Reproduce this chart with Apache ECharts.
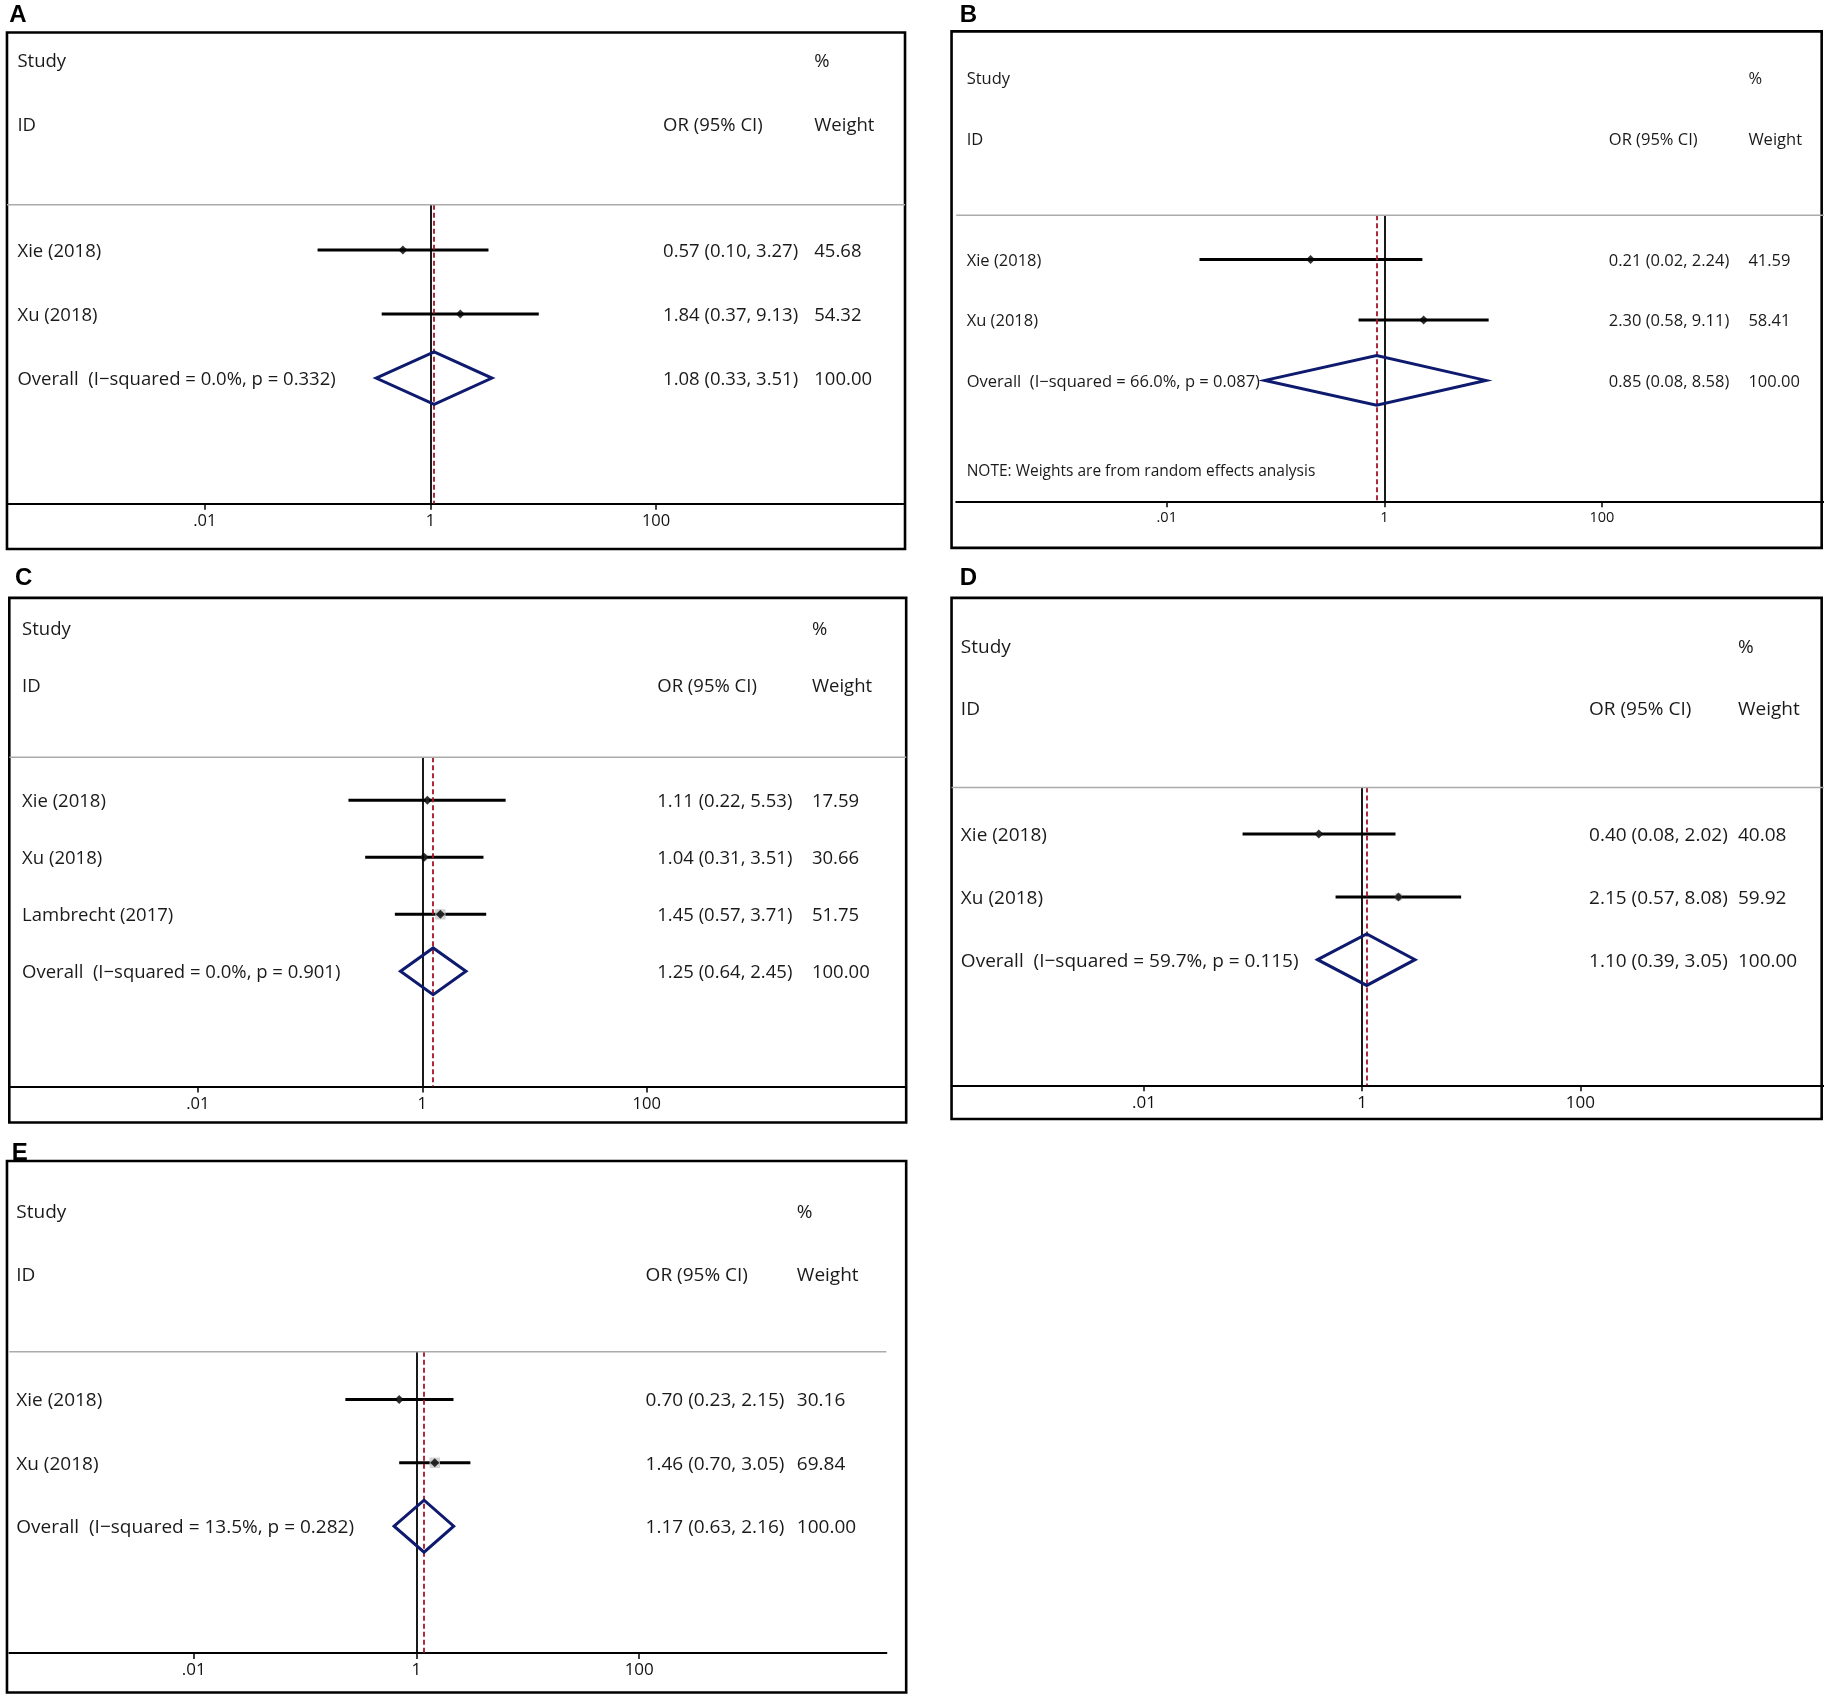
<!DOCTYPE html>
<html>
<head>
<meta charset="utf-8">
<script src="https://cdn.jsdelivr.net/npm/echarts@6/dist/echarts.min.js"></script>
<style>
html, body { margin: 0; padding: 0; background: #fff; }
#chart { width: 1824px; height: 1694px; }
</style>
</head>
<body>
<div id="chart"></div>
<script>
// A
const studyA = ['Xie (2018)', 'Xu (2018)'];
const orA = [0.57, 1.84];
const lowA = [0.10, 0.37];
const highA = [3.27, 9.13];
const weightA = [45.68, 54.32];
const pooledA = [1.08, 0.33, 3.51];
const hetA = ['0.0%', '0.332'];
// B
const studyB = ['Xie (2018)', 'Xu (2018)'];
const orB = [0.21, 2.30];
const lowB = [0.02, 0.58];
const highB = [2.24, 9.11];
const weightB = [41.59, 58.41];
const pooledB = [0.85, 0.08, 8.58];
const hetB = ['66.0%', '0.087'];
// C
const studyC = ['Xie (2018)', 'Xu (2018)', 'Lambrecht (2017)'];
const orC = [1.11, 1.04, 1.45];
const lowC = [0.22, 0.31, 0.57];
const highC = [5.53, 3.51, 3.71];
const weightC = [17.59, 30.66, 51.75];
const pooledC = [1.25, 0.64, 2.45];
const hetC = ['0.0%', '0.901'];
// D
const studyD = ['Xie (2018)', 'Xu (2018)'];
const orD = [0.40, 2.15];
const lowD = [0.08, 0.57];
const highD = [2.02, 8.08];
const weightD = [40.08, 59.92];
const pooledD = [1.10, 0.39, 3.05];
const hetD = ['59.7%', '0.115'];
// E
const studyE = ['Xie (2018)', 'Xu (2018)'];
const orE = [0.70, 1.46];
const lowE = [0.23, 0.70];
const highE = [2.15, 3.05];
const weightE = [30.16, 69.84];
const pooledE = [1.17, 0.63, 2.16];
const hetE = ['13.5%', '0.282'];

const axisTicks = [0.01, 1, 100];
const axisTickLabels = ['.01', '1', '100'];

// layout measured on a 1568 wide copy, scaled up to the page
const S = 1824 / 1568;
const px = v => v * S;
const FONT = '"Open Sans", Lato, sans-serif';
const TEXT_DY = 1.5;

let panels = [
    {letter: 'A', study: studyA, or: orA, low: lowA, high: highA, w: weightA, pooled: pooledA, het: hetA,
     box: [6, 28, 778, 472], letterPos: [8, 3], line: [6, 778], grayY: 176, axisY: 433, row1: 215, step: 55,
     nullX: 370, decade: 97, cols: [15, 570, 700], headY: [52, 107], fs: 18.5, boxScale: 0},
    {letter: 'B', study: studyB, or: orB, low: lowB, high: highB, w: weightB, pooled: pooledB, het: hetB,
     box: [818, 27, 1566, 471], letterPos: [825, 3], line: [822, 1568], grayY: 185, axisY: 431, row1: 223, step: 52,
     nullX: 1190, decade: 93.5, cols: [831, 1383, 1503], headY: [67, 119], fs: 16.5, boxScale: 0,
     note: 'NOTE: Weights are from random effects analysis', noteY: 404},
    {letter: 'C', study: studyC, or: orC, low: lowC, high: highC, w: weightC, pooled: pooledC, het: hetC,
     box: [8, 514, 779, 965], letterPos: [13, 487], line: [8, 779], grayY: 651, axisY: 934, row1: 688, step: 49,
     nullX: 363, decade: 96.5, cols: [19, 565, 698], headY: [540, 589], fs: 18.5, boxScale: 0.2},
    {letter: 'D', study: studyD, or: orD, low: lowD, high: highD, w: weightD, pooled: pooledD, het: hetD,
     box: [818, 514, 1566, 962], letterPos: [825, 487], line: [818, 1568], grayY: 677, axisY: 933, row1: 717, step: 54,
     nullX: 1171, decade: 93.75, cols: [826, 1366, 1494], headY: [555, 609], fs: 19, boxScale: 0.12},
    {letter: 'E', study: studyE, or: orE, low: lowE, high: highE, w: weightE, pooled: pooledE, het: hetE,
     box: [6, 998, 779, 1455], letterPos: [10, 981], line: [8, 762], grayY: 1162, axisY: 1421, row1: 1203, step: 54.5,
     nullX: 358, decade: 95.75, cols: [14, 555, 685], headY: [1041, 1095], fs: 19, boxScale: 0.15}
];

let grids = [], xAxes = [], yAxes = [], series = [], graphics = [];

function fmt(v) { return v.toFixed(2); }
function tickLabel(v) {
    let i = axisTicks.findIndex(t => Math.abs(Math.log10(t) - Math.log10(v)) < 1e-6);
    return i < 0 ? '' : axisTickLabels[i];
}

panels.forEach(function (p, i) {
    let n = p.study.length;
    let rows = p.study.map((s, k) => k + 1);
    let pooledRow = n + 1;

    grids.push({
        left: px(p.line[0]), width: px(p.line[1] - p.line[0]),
        top: px(p.grayY), height: px(p.axisY - p.grayY)
    });
    xAxes.push({
        type: 'log', logBase: 10, gridIndex: i,
        min: Math.pow(10, (p.line[0] - p.nullX) / p.decade),
        max: Math.pow(10, (p.line[1] - p.nullX) / p.decade),
        axisLine: {show: true, onZero: false, lineStyle: {color: '#000', width: 2}},
        axisTick: {show: true, customValues: axisTicks, length: 6, lineStyle: {color: '#000', width: 1.5}},
        axisLabel: {customValues: axisTicks, formatter: tickLabel, margin: 9, color: '#111',
            fontFamily: FONT, fontSize: p.fs - 2},
        splitLine: {show: false}
    });
    yAxes.push({
        type: 'value', gridIndex: i, inverse: true, show: false,
        min: 1 - (p.row1 - p.grayY) / p.step,
        max: 1 + (p.axisY - p.row1) / p.step
    });

    // confidence intervals
    series.push({
        type: 'custom', xAxisIndex: i, yAxisIndex: i, z: 3,
        data: rows.map((r, k) => [p.low[k], p.high[k], r]),
        renderItem: function (params, api) {
            let a = api.coord([api.value(0), api.value(2)]);
            let b = api.coord([api.value(1), api.value(2)]);
            return {type: 'line', shape: {x1: a[0], y1: a[1], x2: b[0], y2: b[1]},
                style: {stroke: '#000', lineWidth: 3}};
        }
    });
    // weight boxes
    series.push({
        type: 'scatter', xAxisIndex: i, yAxisIndex: i, z: 4,
        symbol: 'rect',
        symbolSize: (v, prm) => p.w[prm.dataIndex] * p.boxScale,
        itemStyle: {color: '#c8c8c8'},
        data: rows.map((r, k) => [p.or[k], r])
    });
    // point estimates + reference lines
    series.push({
        type: 'scatter', xAxisIndex: i, yAxisIndex: i, z: 5,
        symbol: 'diamond', symbolSize: 9,
        itemStyle: {color: '#000'},
        data: rows.map((r, k) => [p.or[k], r]),
        markLine: {
            silent: true, symbol: ['none', 'none'], label: {show: false}, animation: false,
            data: [
                {xAxis: 1, lineStyle: {color: '#000', type: 'solid', width: 1.8}},
                {xAxis: p.pooled[0], lineStyle: {color: '#a3152a', type: [5, 3], width: 1.8}}
            ]
        }
    });
    // pooled diamond
    series.push({
        type: 'custom', xAxisIndex: i, yAxisIndex: i, z: 6,
        data: [[p.pooled[0], p.pooled[1], p.pooled[2], pooledRow]],
        renderItem: function (params, api) {
            let r = api.value(3);
            let pts = [
                api.coord([api.value(1), r]),
                api.coord([api.value(0), r - 0.41]),
                api.coord([api.value(2), r]),
                api.coord([api.value(0), r + 0.41])
            ];
            return {type: 'polygon', shape: {points: pts},
                style: {fill: 'none', stroke: '#0d1a6e', lineWidth: 3}};
        }
    });
    // row texts
    let texts = p.study.map((s, k) => [s, fmt(p.or[k]) + ' (' + fmt(p.low[k]) + ', ' + fmt(p.high[k]) + ')', fmt(p.w[k])]);
    texts.push(['Overall  (I\u2212squared = ' + p.het[0] + ', p = ' + p.het[1] + ')',
        fmt(p.pooled[0]) + ' (' + fmt(p.pooled[1]) + ', ' + fmt(p.pooled[2]) + ')', '100.00']);
    series.push({
        type: 'custom', xAxisIndex: i, yAxisIndex: i, z: 7, clip: false,
        data: texts.map((t, k) => [1, k + 1]),
        renderItem: function (params, api) {
            let y = api.coord([1, api.value(1)])[1] + TEXT_DY;
            let t = texts[params.dataIndex];
            return {type: 'group', children: p.cols.map((cx, c) => ({
                type: 'text', x: px(cx), y: y,
                style: {text: t[c], fill: '#1a1a1a', font: p.fs + 'px ' + FONT, verticalAlign: 'middle', align: 'left'}
            }))};
        }
    });

    // frame, header, letter
    graphics.push({type: 'rect', shape: {x: px(p.box[0]), y: px(p.box[1]), width: px(p.box[2] - p.box[0]), height: px(p.box[3] - p.box[1])},
        style: {fill: 'none', stroke: '#000', lineWidth: 2.6}, z: 10});
    graphics.push({type: 'line', shape: {x1: px(p.line[0]), y1: px(p.grayY), x2: px(p.line[1]), y2: px(p.grayY)},
        style: {stroke: '#ababab', lineWidth: 1.6}, z: 10});
    graphics.push({type: 'text', x: px(p.letterPos[0]), y: px(p.letterPos[1]),
        style: {text: p.letter, fill: '#000', font: 'bold 24px "Liberation Sans", Arial, sans-serif'}, z: 10});
    let head = [
        ['Study', p.cols[0], p.headY[0]], ['ID', p.cols[0], p.headY[1]],
        ['%', p.cols[2], p.headY[0]], ['OR (95% CI)', p.cols[1], p.headY[1]], ['Weight', p.cols[2], p.headY[1]]
    ];
    head.forEach(function (h) {
        graphics.push({type: 'text', x: px(h[1]), y: px(h[2]) + TEXT_DY,
            style: {text: h[0], fill: '#1a1a1a', font: p.fs + 'px ' + FONT, verticalAlign: 'middle'}, z: 10});
    });
    if (p.note) {
        graphics.push({type: 'text', x: px(p.cols[0]), y: px(p.noteY) + TEXT_DY,
            style: {text: p.note, fill: '#1a1a1a', font: (p.fs - 1) + 'px ' + FONT, verticalAlign: 'middle'}, z: 10});
    }
});

let chart = echarts.init(document.getElementById('chart'));
chart.setOption({
    animation: false,
    backgroundColor: '#fff',
    grid: grids,
    xAxis: xAxes,
    yAxis: yAxes,
    series: series,
    graphic: graphics
});
</script>
</body>
</html>
